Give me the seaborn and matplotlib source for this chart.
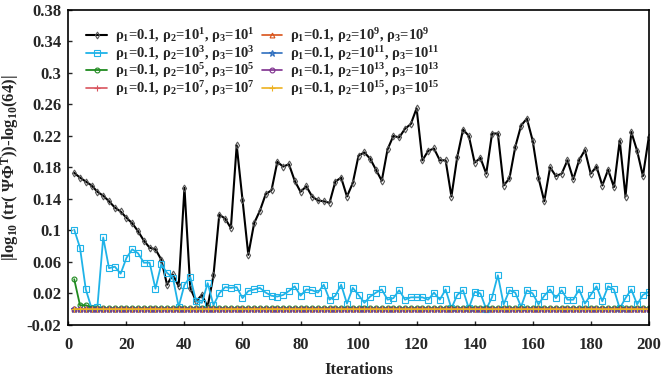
import numpy as np
import pandas as pd
import matplotlib
matplotlib.use("Agg")
import matplotlib.pyplot as plt
import seaborn as sns
from matplotlib.ticker import FuncFormatter, MultipleLocator

# iterations (every second step)
iterations = list(range(2, 201, 2))

rho_1e1 = [0.173, 0.167, 0.162, 0.157, 0.149, 0.144, 0.137, 0.129, 0.124, 0.116,
           0.109, 0.099, 0.087, 0.078, 0.076, 0.063, 0.031, 0.044, 0.029, 0.154,
           0.027, 0.010, 0.018, 0.003, 0.043, 0.120, 0.115, 0.103, 0.208, 0.139,
           0.069, 0.109, 0.125, 0.146, 0.151, 0.187, 0.181, 0.184, 0.163, 0.149,
           0.156, 0.143, 0.138, 0.137, 0.135, 0.162, 0.167, 0.143, 0.160, 0.195,
           0.199, 0.191, 0.177, 0.163, 0.203, 0.220, 0.218, 0.229, 0.235, 0.255,
           0.189, 0.201, 0.204, 0.189, 0.189, 0.143, 0.193, 0.228, 0.220, 0.186,
           0.192, 0.172, 0.223, 0.223, 0.157, 0.166, 0.206, 0.233, 0.242, 0.214,
           0.167, 0.137, 0.180, 0.169, 0.172, 0.189, 0.165, 0.189, 0.202, 0.172,
           0.181, 0.157, 0.177, 0.155, 0.214, 0.143, 0.225, 0.201, 0.169, 0.218]

rho_1e3 = [0.101, 0.078, 0.025, 0.001, 0.003, 0.091, 0.052, 0.054, 0.045, 0.065,
           0.076, 0.071, 0.059, 0.059, 0.026, 0.057, 0.046, 0.040, 0.003, 0.031,
           0.041, 0.010, 0.008, 0.033, 0.005, 0.020, 0.028, 0.027, 0.028, 0.014,
           0.023, 0.025, 0.027, 0.021, 0.017, 0.016, 0.018, 0.023, 0.029, 0.017,
           0.025, 0.024, 0.021, 0.031, 0.012, 0.017, 0.031, 0.007, 0.027, 0.018,
           0.008, 0.016, 0.021, 0.025, 0.012, 0.014, 0.024, 0.012, 0.015, 0.015,
           0.015, 0.012, 0.021, 0.012, 0.025, 0.001, 0.018, 0.024, 0.001, 0.022,
           0.020, 0.000, 0.015, 0.043, 0.006, 0.024, 0.021, 0.003, 0.024, 0.020,
           0.006, 0.017, 0.025, 0.014, 0.024, 0.012, 0.012, 0.025, 0.007, 0.018,
           0.029, 0.010, 0.029, 0.025, 0.001, 0.014, 0.025, 0.006, 0.018, 0.022]

rho_1e5 = [0.038, 0.005, 0.005, 0.002, 0.001, 0.001, 0.001, 0.001, 0.001, 0.001,
           0.001, 0.001, 0.001, 0.001, 0.001, 0.001, 0.001, 0.001, 0.001, 0.001,
           0.001, 0.001, 0.001, 0.001, 0.001, 0.001, 0.001, 0.001, 0.001, 0.001,
           0.001, 0.001, 0.001, 0.001, 0.001, 0.001, 0.001, 0.001, 0.001, 0.001,
           0.001, 0.001, 0.001, 0.001, 0.001, 0.001, 0.001, 0.001, 0.001, 0.001,
           0.001, 0.001, 0.001, 0.001, 0.001, 0.001, 0.001, 0.001, 0.001, 0.001,
           0.001, 0.001, 0.001, 0.001, 0.001, 0.001, 0.001, 0.001, 0.001, 0.001,
           0.001, 0.001, 0.001, 0.001, 0.001, 0.001, 0.001, 0.001, 0.001, 0.001,
           0.001, 0.001, 0.001, 0.001, 0.001, 0.001, 0.001, 0.001, 0.001, 0.001,
           0.001, 0.001, 0.001, 0.001, 0.001, 0.001, 0.001, 0.001, 0.001, 0.001]

# rho_2 = rho_3 >= 1e7: all runs sit on zero
rho_high = [0.0, 0.0, 0.0, 0.0, 0.0, 0.0, 0.0, 0.0, 0.0, 0.0,
            0.0, 0.0, 0.0, 0.0, 0.0, 0.0, 0.0, 0.0, 0.0, 0.0,
            0.0, 0.0, 0.0, 0.0, 0.0, 0.0, 0.0, 0.0, 0.0, 0.0,
            0.0, 0.0, 0.0, 0.0, 0.0, 0.0, 0.0, 0.0, 0.0, 0.0,
            0.0, 0.0, 0.0, 0.0, 0.0, 0.0, 0.0, 0.0, 0.0, 0.0,
            0.0, 0.0, 0.0, 0.0, 0.0, 0.0, 0.0, 0.0, 0.0, 0.0,
            0.0, 0.0, 0.0, 0.0, 0.0, 0.0, 0.0, 0.0, 0.0, 0.0,
            0.0, 0.0, 0.0, 0.0, 0.0, 0.0, 0.0, 0.0, 0.0, 0.0,
            0.0, 0.0, 0.0, 0.0, 0.0, 0.0, 0.0, 0.0, 0.0, 0.0,
            0.0, 0.0, 0.0, 0.0, 0.0, 0.0, 0.0, 0.0, 0.0, 0.0]

exponents = [1, 3, 5, 7, 9, 11, 13, 15]
series = [rho_1e1, rho_1e3, rho_1e5, rho_high, rho_high, rho_high, rho_high, rho_high]

COLORS  = ["#000000", "#1fb3e8", "#1f8a1f", "#d9545e", "#d95319", "#2f6fbf", "#7e2f8e", "#edb120"]
MARKERS = ["d", "s", "o", "+", "^", "*", "o", "+"]
MSIZE   = [3.5, 4.5, 3.5, 5, 3.5, 5, 3.5, 5]
LWIDTH  = [1.5, 1.3, 1.3, 1.2, 1.2, 1.2, 1.2, 1.2]

sns.set_style("ticks")
plt.rcParams["font.family"] = ["Liberation Serif", "DejaVu Serif"]
plt.rcParams["font.weight"] = "bold"
plt.rcParams["mathtext.fontset"] = "custom"
plt.rcParams["mathtext.rm"] = "Liberation Serif:bold"
plt.rcParams["mathtext.it"] = "Liberation Serif:bold"
plt.rcParams["mathtext.bf"] = "Liberation Serif:bold"

fig = plt.figure(figsize=(6.64, 3.80), dpi=100)
ax = fig.add_axes([0.103, 0.145, 0.874, 0.829])

for i, (exp, vals) in enumerate(zip(exponents, series)):
    df = pd.DataFrame({"Iterations": iterations, "value": vals})
    label = (r"$\rho_1$=0.1, $\rho_2$=10$^{%d}$, $\rho_3$=10$^{%d}$" % (exp, exp))
    sns.lineplot(data=df, x="Iterations", y="value", ax=ax, color=COLORS[i],
                 marker=MARKERS[i], markersize=MSIZE[i], markerfacecolor="none",
                 markeredgecolor=COLORS[i] if i != 0 else "#555555",
                 markeredgewidth=0.8, linewidth=LWIDTH[i], label=label)

ax.set_xlim(0, 200)
ax.set_ylim(-0.02, 0.38)
ax.xaxis.set_major_locator(MultipleLocator(20))
ax.set_yticks(np.arange(-0.02, 0.381, 0.04))
ax.yaxis.set_major_formatter(FuncFormatter(lambda v, p: "%g" % round(v, 2)))
ax.tick_params(direction="in", length=3, width=1, labelsize=12, top=False, right=False)
ax.tick_params(axis="x", pad=9)
ax.tick_params(axis="y", pad=5)
for lbl in ax.get_xticklabels() + ax.get_yticklabels():
    lbl.set_fontweight("bold")
for sp in ax.spines.values():
    sp.set_linewidth(1.2)
    sp.set_color("black")

ax.set_xlabel("Iterations", fontsize=12, fontweight="bold", labelpad=6)
ax.set_ylabel(r"|log$_{10}$ (tr( $\Psi\Phi^{\mathrm{T}}$))-log$_{10}$(64)|",
              fontsize=12, fontweight="bold", labelpad=4)

ax.legend(loc="upper left", ncol=2, frameon=False, fontsize=10.5,
          handlelength=1.4, handletextpad=0.55, labelspacing=-0.1,
          columnspacing=0.5, borderaxespad=0.2, bbox_to_anchor=(0.016, 0.975))

fig.savefig("out.png", dpi=100)
